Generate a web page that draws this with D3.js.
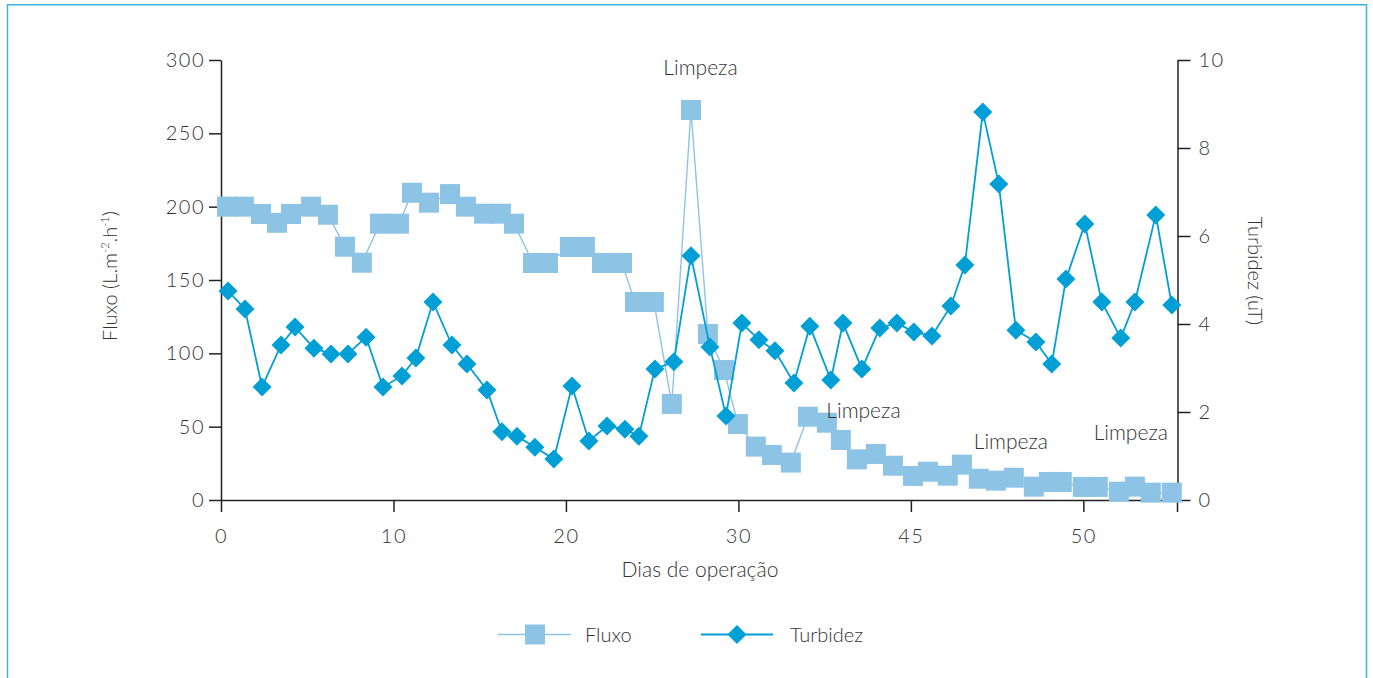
<!DOCTYPE html>
<html lang="pt">
<head>
<meta charset="utf-8">
<script src="https://cdn.jsdelivr.net/npm/d3@7"></script>
<style>
  html, body { margin: 0; padding: 0; background: #fff; }
  svg { display: block; }
  svg text { font-family: "Lato", "Open Sans", sans-serif; font-weight: 300; fill: #333; }
  .tick text { font-size: 20px; letter-spacing: 1.5px; }
  .tick line { stroke: #222; stroke-width: 1.5; }
  .domain { stroke: #222; stroke-width: 1.5; }
</style>
</head>
<body>
<svg id="chart" width="1373" height="678"></svg>
<script>
// Dias de operação (posição de cada leitura)
const fluxoDias = [0.35, 1.33, 2.32, 3.25, 4.06, 5.22, 6.20, 7.19, 8.17, 9.22, 10.32, 11.07, 12.06, 13.28,
  14.20, 15.25, 16.23, 16.99, 18.09, 18.96, 20.23, 21.10, 22.09, 23.25, 24.00, 25.10, 26.14, 27.25,
  28.23, 29.16, 29.97, 31.01, 31.94, 33.04, 34.03, 35.13, 35.94, 36.87, 37.97, 38.96, 40.12, 40.99,
  42.14, 42.96, 43.94, 44.93, 45.97, 47.13, 48.00, 48.75, 49.97, 50.84, 52.06, 52.99, 53.91, 55.13];
const turbidezDias = [0.41, 1.39, 2.38, 3.48, 4.29, 5.39, 6.38, 7.36, 8.41, 9.39, 10.49, 11.30, 12.29, 13.39,
  14.26, 15.42, 16.29, 17.16, 18.20, 19.30, 20.35, 21.33, 22.38, 23.42, 24.23, 25.16, 26.26, 27.25,
  28.35, 29.28, 30.20, 31.19, 32.12, 33.22, 34.14, 35.36, 36.06, 37.16, 38.20, 39.19, 40.17, 41.22,
  42.32, 43.13, 44.17, 45.10, 46.09, 47.25, 48.17, 48.99, 50.09, 51.07, 52.17, 52.99, 54.20, 55.13];

// Fluxo (L.m-2.h-1)
const fluxo = [200, 200, 195, 189, 195, 200, 194.5, 172.7, 161.8, 188.4, 188.4, 209.5, 202.7, 208.6,
  200, 195.2, 195.2, 188.4, 161.6, 161.6, 172.5, 172.5, 161.6, 161.6, 135, 135, 65.5, 265.9,
  113.2, 88.6, 51.8, 36.4, 30.7, 25.5, 56.8, 52.7, 40.9, 27.7, 31.4, 23.4, 16.4, 19.3,
  16.6, 24.1, 14.5, 13.2, 15.2, 9.1, 12.3, 12.3, 8.9, 8.9, 5.7, 9.1, 5, 5];

// Turbidez (uT)
const turbidez = [4.75, 4.34, 2.57, 3.52, 3.93, 3.45, 3.32, 3.32, 3.70, 2.57, 2.82, 3.23, 4.50, 3.52,
  3.09, 2.50, 1.55, 1.45, 1.20, 0.93, 2.59, 1.34, 1.68, 1.61, 1.45, 2.98, 3.14, 5.55,
  3.48, 1.91, 4.02, 3.64, 3.39, 2.66, 3.95, 2.73, 4.02, 2.98, 3.91, 4.02, 3.82, 3.73,
  4.41, 5.34, 8.82, 7.18, 3.86, 3.59, 3.09, 5.02, 6.27, 4.50, 3.68, 4.50, 6.48, 4.43];

// Eixos
const xTickValues = [0, 10, 20, 30, 40, 50];
const xTickLabels = ["0", "10", "20", "30", "45", "50"];
const fluxoTicks = [0, 50, 100, 150, 200, 250, 300];
const turbidezTicks = [0, 2, 4, 6, 8, 10];

// Anotações de limpeza: posição em dias e em fluxo
const limpezas = [
  { dia: 27.8, fluxo: 290 },
  { dia: 37.25, fluxo: 56 },
  { dia: 45.8, fluxo: 35 },
  { dia: 52.75, fluxo: 41 }
];

const corFluxo = "#8dc4e6";
const corTurbidez = "#009fd5";

const svg = d3.select("#chart");

// Moldura
svg.append("path")
  .attr("d", "M7.5,690 V4.8 H1366.5 V690")
  .attr("fill", "none")
  .attr("stroke", "#3fb1de")
  .attr("stroke-width", 1.5);

const x = d3.scaleLinear().domain([0, 55.46]).range([221, 1177.5]);
const yL = d3.scaleLinear().domain([0, 300]).range([500, 60]);
const yR = d3.scaleLinear().domain([0, 10]).range([500, 60]);

// Eixo X
svg.append("g").attr("transform", "translate(0,500)")
  .call(d3.axisBottom(x).tickValues(xTickValues)
    .tickFormat((d, i) => xTickLabels[i])
    .tickSize(12).tickSizeOuter(0).tickPadding(17))
  .attr("font-family", null).attr("font-size", null);

// Eixo esquerdo
svg.append("g").attr("transform", "translate(221,0)")
  .call(d3.axisLeft(yL).tickValues(fluxoTicks).tickSize(12).tickSizeOuter(0).tickPadding(4))
  .attr("font-family", null).attr("font-size", null);

// Eixo direito
svg.append("g").attr("transform", "translate(1177.5,0)")
  .call(d3.axisRight(yR).tickValues(turbidezTicks).tickSize(13).tickSizeOuter(0).tickPadding(8))
  .attr("font-family", null).attr("font-size", null);

// Prolongamento do eixo direito abaixo da linha base
svg.append("line").attr("x1", 1177.5).attr("x2", 1177.5).attr("y1", 500).attr("y2", 512)
  .attr("stroke", "#222").attr("stroke-width", 1.5);

// Títulos dos eixos
svg.append("text")
  .attr("x", 700).attr("y", 577)
  .attr("text-anchor", "middle")
  .attr("font-size", 21)
  .text("Dias de operação");

const tl = svg.append("text")
  .attr("transform", "translate(117,276) rotate(-90)")
  .attr("text-anchor", "middle")
  .attr("font-size", 20);
tl.append("tspan").text("Fluxo (L.m");
tl.append("tspan").attr("font-size", 11).attr("dy", -8).text("-2");
tl.append("tspan").attr("dy", 8).text(".h");
tl.append("tspan").attr("font-size", 11).attr("dy", -8).text("-1");
tl.append("tspan").attr("dy", 8).text(")");

svg.append("text")
  .attr("transform", "translate(1248,271) rotate(90)")
  .attr("text-anchor", "middle")
  .attr("font-size", 20)
  .text("Turbidez (uT)");

// Série Fluxo
const fluxoData = fluxo.map((v, i) => ({ d: fluxoDias[i], v }));
svg.append("path")
  .datum(fluxoData)
  .attr("fill", "none")
  .attr("stroke", corFluxo)
  .attr("stroke-width", 1.4)
  .attr("d", d3.line().x(p => x(p.d)).y(p => yL(p.v)));

svg.append("g").selectAll("rect")
  .data(fluxoData).join("rect")
  .attr("x", p => x(p.d) - 10)
  .attr("y", p => yL(p.v) - 10)
  .attr("width", 20).attr("height", 20)
  .attr("fill", corFluxo);

// Série Turbidez
const turbData = turbidez.map((v, i) => ({ d: turbidezDias[i], v }));
svg.append("path")
  .datum(turbData)
  .attr("fill", "none")
  .attr("stroke", corTurbidez)
  .attr("stroke-width", 1.8)
  .attr("d", d3.line().x(p => x(p.d)).y(p => yR(p.v)));

const diamond = "M0,-9.5L9.5,0L0,9.5L-9.5,0Z";
svg.append("g").selectAll("path")
  .data(turbData).join("path")
  .attr("transform", p => `translate(${x(p.d)},${yR(p.v)})`)
  .attr("d", diamond)
  .attr("fill", corTurbidez);

// Anotações
svg.append("g").selectAll("text")
  .data(limpezas).join("text")
  .attr("x", a => x(a.dia))
  .attr("y", a => yL(a.fluxo))
  .attr("text-anchor", "middle")
  .attr("font-size", 21)
  .text("Limpeza");

// Legenda
const lg = svg.append("g");
lg.append("line").attr("x1", 498).attr("x2", 571).attr("y1", 634.5).attr("y2", 634.5)
  .attr("stroke", corFluxo).attr("stroke-width", 1.4);
lg.append("rect").attr("x", 525).attr("y", 624.5).attr("width", 20).attr("height", 20).attr("fill", corFluxo);
lg.append("text").attr("x", 585).attr("y", 642).attr("font-size", 20).text("Fluxo");

lg.append("line").attr("x1", 701).attr("x2", 773).attr("y1", 634.5).attr("y2", 634.5)
  .attr("stroke", corTurbidez).attr("stroke-width", 1.8);
lg.append("path").attr("transform", "translate(737,634.5)").attr("d", diamond).attr("fill", corTurbidez);
lg.append("text").attr("x", 790).attr("y", 642).attr("font-size", 20).text("Turbidez");
</script>
</body>
</html>
